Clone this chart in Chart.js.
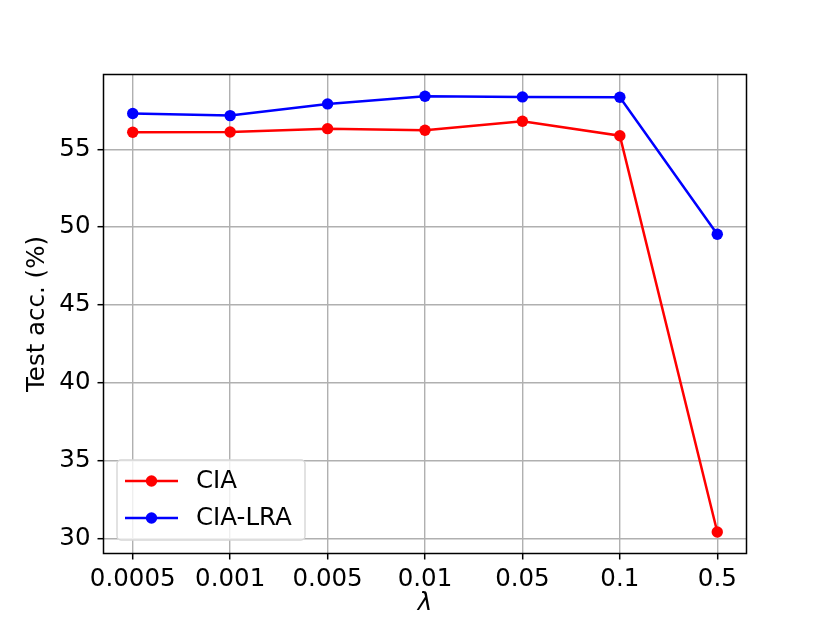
<!DOCTYPE html>
<html>
<head>
<meta charset="utf-8">
<script src="https://cdn.jsdelivr.net/npm/chart.js@4.4.1/dist/chart.umd.min.js"></script>
<style>
  html, body { margin: 0; padding: 0; background: #fff; }
  #chart { display: block; }
</style>
</head>
<body>
<canvas id="chart" width="830" height="623"></canvas>
<script>
// Data
const lambdaLabels = ['0.0005', '0.001', '0.005', '0.01', '0.05', '0.1', '0.5'];
const ciaValues = [56.09, 56.11, 56.32, 56.22, 56.80, 55.87, 30.41];
const ciaLraValues = [57.29, 57.16, 57.91, 58.40, 58.36, 58.34, 49.54];
const yTicks = [30, 35, 40, 45, 50, 55];

const FONT = 'DejaVu Sans';
const FONT_SIZE = 24.5;

// Frame around the plot area plus a matplotlib-like legend box
const framePlugin = {
    id: 'frame',
    afterDraw(chart) {
        const { ctx, chartArea: a } = chart;
        ctx.save();
        ctx.strokeStyle = '#000';
        ctx.lineWidth = 1.5;
        ctx.strokeRect(a.left, a.top, a.right - a.left, a.bottom - a.top);

        // legend
        const bx = 117, by = 460, bw = 188, bh = 80;
        ctx.fillStyle = 'rgba(255,255,255,0.8)';
        ctx.strokeStyle = '#d6d6d6';
        ctx.lineWidth = 1.4;
        ctx.beginPath();
        ctx.roundRect(bx, by, bw, bh, 4);
        ctx.fill();
        ctx.stroke();

        const entries = [
            { text: 'CIA', color: '#ff0000', y: 481 },
            { text: 'CIA-LRA', color: '#0000ff', y: 518 }
        ];
        entries.forEach(e => {
            ctx.strokeStyle = e.color;
            ctx.lineWidth = 2.5;
            ctx.beginPath();
            ctx.moveTo(125, e.y);
            ctx.lineTo(178, e.y);
            ctx.stroke();
            ctx.fillStyle = e.color;
            ctx.beginPath();
            ctx.arc(151.5, e.y, 5.7, 0, Math.PI * 2);
            ctx.fill();
            ctx.fillStyle = '#000';
            ctx.font = FONT_SIZE + 'px "' + FONT + '"';
            ctx.textBaseline = 'middle';
            ctx.textAlign = 'left';
            ctx.fillText(e.text, 196, e.y + 1);
        });
        ctx.restore();
    }
};

const toPoints = vals => vals.map((v, i) => ({ x: i, y: v }));

new Chart(document.getElementById('chart'), {
    type: 'line',
    data: {
        datasets: [
            {
                label: 'CIA',
                data: toPoints(ciaValues),
                borderColor: '#ff0000',
                backgroundColor: '#ff0000',
                borderWidth: 2.5,
                pointRadius: 5.7,
                pointHoverRadius: 5.7,
                pointBorderWidth: 0,
                tension: 0
            },
            {
                label: 'CIA-LRA',
                data: toPoints(ciaLraValues),
                borderColor: '#0000ff',
                backgroundColor: '#0000ff',
                borderWidth: 2.5,
                pointRadius: 5.7,
                pointHoverRadius: 5.7,
                pointBorderWidth: 0,
                tension: 0
            }
        ]
    },
    options: {
        responsive: false,
        animation: false,
        layout: { padding: { top: 74.5, right: 83.5, left: 0, bottom: 0 } },
        plugins: {
            legend: { display: false },
            tooltip: { enabled: false }
        },
        scales: {
            x: {
                type: 'linear',
                min: -0.3,
                max: 6.3,
                afterBuildTicks: scale => {
                    scale.ticks = lambdaLabels.map((_, i) => ({ value: i }));
                },
                afterFit: scale => { scale.height = 69.5; },
                ticks: {
                    autoSkip: false,
                    maxRotation: 0,
                    color: '#000',
                    padding: 5,
                    font: { family: FONT, size: FONT_SIZE },
                    callback: value => lambdaLabels[value]
                },
                grid: {
                    color: '#b0b0b0',
                    lineWidth: 1.4,
                    tickColor: '#000',
                    tickLength: 6,
                    tickWidth: 1.5
                },
                border: { display: false },
                title: {
                    display: true,
                    text: 'λ',
                    color: '#000',
                    padding: { top: 0, bottom: 5 },
                    font: { family: FONT, size: FONT_SIZE, style: 'italic' }
                }
            },
            y: {
                min: 29.03,
                max: 59.80,
                afterBuildTicks: scale => {
                    scale.ticks = yTicks.map(v => ({ value: v }));
                },
                afterFit: scale => { scale.width = 103.5; },
                ticks: {
                    color: '#000',
                    padding: 7,
                    font: { family: FONT, size: FONT_SIZE }
                },
                grid: {
                    color: '#b0b0b0',
                    lineWidth: 1.4,
                    tickColor: '#000',
                    tickLength: 6,
                    tickWidth: 1.5
                },
                border: { display: false },
                title: {
                    display: true,
                    text: 'Test acc. (%)',
                    color: '#000',
                    padding: { top: 23, bottom: 0 },
                    font: { family: FONT, size: FONT_SIZE }
                }
            }
        }
    },
    plugins: [framePlugin]
});
</script>
</body>
</html>
